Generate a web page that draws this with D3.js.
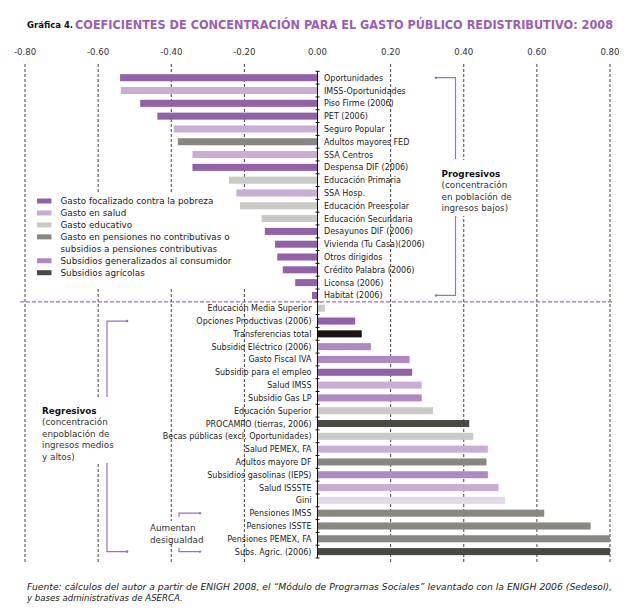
<!DOCTYPE html>
<html>
<head>
<meta charset="utf-8">
<script src="https://cdn.jsdelivr.net/npm/d3@7"></script>
<style>
  body { margin: 0; background: #fff; }
  svg { display: block; font-family: "DejaVu Sans", Verdana, sans-serif; }
</style>
</head>
<body>
<div class="chart"></div>
<script>
// rows, top to bottom
var labels = [
  "Oportunidades", "IMSS-Oportunidades", "Piso Firme (2006)", "PET (2006)",
  "Seguro Popular", "Adultos mayores FED", "SSA Centros", "Despensa DIF (2006)",
  "Educación Primaria", "SSA Hosp.", "Educación Preescolar", "Educación Secundaria",
  "Desayunos DIF (2006)", "Vivienda (Tu Casa)(2006)", "Otros dirigidos",
  "Crédito Palabra (2006)", "Liconsa (2006)", "Habitat (2006)",
  "Educación Media Superior", "Opciones Productivas (2006)", "Transferencias total",
  "Subsidio Eléctrico (2006)", "Gasto Fiscal IVA", "Subsidio para el empleo",
  "Salud IMSS", "Subsidio Gas LP", "Educación Superior", "PROCAMPO (tierras, 2006)",
  "Becas públicas (excl. Oportunidades)", "Salud PEMEX, FA", "Adultos mayore DF",
  "Subsidios gasolinas (IEPS)", "Salud ISSSTE", "Gini", "Pensiones IMSS",
  "Pensiones ISSTE", "Pensiones PEMEX, FA", "Subs. Agric. (2006)"
];
var values = [
  -0.540, -0.538, -0.485, -0.438, -0.393, -0.382, -0.342, -0.342,
  -0.242, -0.222, -0.212, -0.153, -0.144, -0.116, -0.110, -0.095, -0.061, -0.015,
  0.020, 0.103, 0.121, 0.146, 0.252, 0.259, 0.285, 0.285, 0.316, 0.415,
  0.426, 0.466, 0.462, 0.466, 0.495, 0.513, 0.620, 0.747, 0.800, 0.800
];
// f = focalizado, s = salud, e = educativo, p = pensiones, g = subsidios generalizados,
// a = agricolas, t = transferencias total, gini
var groups = [
  "f", "s", "f", "f", "s", "p", "s", "f", "e", "s", "e", "e", "f", "f", "f", "f", "f", "f",
  "e", "f", "t", "g", "g", "f", "s", "g", "e", "a", "e", "s", "p", "g", "s", "gini",
  "p", "p", "p", "a"
];
var ticks = [-0.8, -0.6, -0.4, -0.2, 0, 0.2, 0.4, 0.6, 0.8];
var legendKeys = ["f", "s", "e", "p", "g", "a"];
var legendText = [
  ["Gasto focalizado contra la pobreza"],
  ["Gasto en salud"],
  ["Gasto educativo"],
  ["Gasto en pensiones no contributivas o", "subsidios a pensiones contributivas"],
  ["Subsidios generalizados al consumidor"],
  ["Subsidios agrícolas"]
];
var colors = {
  f: "#9262a8", s: "#c9add5", e: "#c9c9c5", p: "#898782",
  g: "#b189c2", a: "#4b4945", t: "#1a1511", gini: "#e5d8eb"
};
var nTop = 18; // progresivos

var rows = labels.map(function(l, i) {
  return {label: l, value: values[i], group: groups[i], i: i};
});

var width = 644, height = 611;
var svg = d3.select("div.chart").append("svg")
    .attr("width", width).attr("height", height);

var x = d3.scaleLinear().domain([-0.8, 0.8]).range([25, 610]);
var y = d3.scaleBand().domain(labels).range([71.3, 558])
    .paddingInner(0.45).paddingOuter(0.225);
var step = y.step();
var cy = function(l) { return y(l) + y.bandwidth() / 2; };

// title
svg.append("text")
    .attr("x", 27).attr("y", 28)
    .attr("font-size", 8.5).attr("font-weight", "bold").attr("fill", "#111")
    .text("Gráfica 4.");
svg.append("text")
    .attr("x", 75).attr("y", 29)
    .attr("font-family", "'DejaVu Sans Condensed', 'DejaVu Sans', sans-serif")
    .attr("font-size", 13).attr("font-weight", "bold").attr("fill", "#9a5eb3")
    .attr("textLength", 538).attr("lengthAdjust", "spacingAndGlyphs")
    .text("COEFICIENTES DE CONCENTRACIÓN PARA EL GASTO PÚBLICO REDISTRIBUTIVO: 2008");

// top tick labels (plain hyphen, as in the original)
svg.selectAll(".tick-label")
    .data(ticks)
  .enter().append("text")
    .attr("class", "tick-label")
    .attr("x", function(d) { return x(d); })
    .attr("y", 55)
    .attr("text-anchor", "middle")
    .attr("font-size", 8.6).attr("fill", "#333")
    .text(function(d) { return (d < 0 ? "-" : "") + Math.abs(d).toFixed(2); });

// dashed gridlines
svg.selectAll(".grid")
    .data(ticks.filter(function(d) { return d != 0; }))
  .enter().append("line")
    .attr("class", "grid")
    .attr("x1", function(d) { return x(d); })
    .attr("x2", function(d) { return x(d); })
    .attr("y1", 64).attr("y2", 562)
    .attr("stroke", "#444").attr("stroke-width", 1)
    .attr("stroke-dasharray", "3,2");

// separator between progresivos / regresivos
var sepY = (cy(labels[nTop - 1]) + cy(labels[nTop])) / 2;
svg.append("line")
    .attr("x1", 20).attr("x2", 613)
    .attr("y1", sepY).attr("y2", sepY)
    .attr("stroke", "#a56ec2").attr("stroke-width", 1.2)
    .attr("stroke-dasharray", "4,2");

// white boxes behind legend and notes
var blank = function(x0, y0, w, h) {
  svg.append("rect").attr("x", x0).attr("y", y0).attr("width", w).attr("height", h)
     .attr("fill", "#fff");
};
blank(30, 193, 220, 94);
blank(438, 160, 92, 56);
blank(38, 398, 88, 65);
blank(147, 521, 58, 23);

// bars
svg.selectAll(".bar")
    .data(rows)
  .enter().append("rect")
    .attr("class", "bar")
    .attr("x", function(d) { return x(Math.min(0, d.value)); })
    .attr("y", function(d) { return y(d.label); })
    .attr("width", function(d) { return Math.abs(x(d.value) - x(0)); })
    .attr("height", y.bandwidth())
    .attr("fill", function(d) { return colors[d.group]; });

// zero axis with ticks at row boundaries
svg.append("line")
    .attr("x1", x(0)).attr("x2", x(0))
    .attr("y1", 71.3).attr("y2", 558)
    .attr("stroke", "#111").attr("stroke-width", 1);
svg.selectAll(".ztick")
    .data(d3.range(labels.length + 1))
  .enter().append("line")
    .attr("class", "ztick")
    .attr("x1", x(0) - 2).attr("x2", x(0) + 2)
    .attr("y1", function(i) { return 71.3 + i * step; })
    .attr("y2", function(i) { return 71.3 + i * step; })
    .attr("stroke", "#111");

// category labels
svg.selectAll(".cat")
    .data(rows)
  .enter().append("text")
    .attr("class", "cat")
    .attr("x", function(d) { return d.i < nTop ? x(0) + 6.5 : x(0) - 6; })
    .attr("y", function(d) { return cy(d.label) + 3; })
    .attr("text-anchor", function(d) { return d.i < nTop ? "start" : "end"; })
    .attr("font-size", 8).attr("fill", "#1b1b1b")
    .text(function(d) { return d.label; });

// legend
var ly = 204, lstep = 11.95, line = 0;
legendKeys.forEach(function(k, i) {
  svg.append("rect")
      .attr("x", 37).attr("y", ly + line * lstep - 5.5)
      .attr("width", 14.5).attr("height", 5)
      .attr("fill", colors[k]);
  legendText[i].forEach(function(t) {
    svg.append("text")
        .attr("x", 60.5).attr("y", ly + line * lstep)
        .attr("font-size", 8.8).attr("fill", "#222")
        .text(t);
    line++;
  });
});

// brackets
var bcol = "#9b72b6";
var bracket = function(xv, xe, y0, y1, gap0, gap1) {
  var p = d3.path();
  p.moveTo(xe, y0); p.lineTo(xv, y0); p.lineTo(xv, gap0);
  p.moveTo(xv, gap1); p.lineTo(xv, y1); p.lineTo(xe, y1);
  svg.append("path").attr("d", p.toString())
      .attr("fill", "none").attr("stroke", bcol).attr("stroke-width", 1.2);
  [y0, y1].forEach(function(yy) {
    svg.append("circle").attr("cx", xe).attr("cy", yy).attr("r", 1.3).attr("fill", bcol);
  });
};
bracket(455.5, 436, cy(labels[0]), cy(labels[nTop - 1]), 159, 216);
bracket(107, 127, cy("Opciones Productivas (2006)"), cy("Subs. Agric. (2006)"), 397, 463);

// aumentan desigualdad marks
var small = function(yy, up) {
  svg.append("path")
      .attr("d", "M179," + (yy + (up ? 3.5 : -3.5)) + "L179," + yy + "L200," + yy)
      .attr("fill", "none").attr("stroke", bcol).attr("stroke-width", 1.2);
  svg.append("circle").attr("cx", 200).attr("cy", yy).attr("r", 1.2).attr("fill", bcol);
};
small(cy("Pensiones IMSS"), true);
small(cy("Subs. Agric. (2006)"), false);

var note = function(x0, y0, lines, bold) {
  var t = svg.append("text").attr("x", x0).attr("y", y0).attr("font-size", 8.8).attr("fill", "#222");
  lines.forEach(function(l, i) {
    t.append("tspan").attr("x", x0).attr("dy", i == 0 ? 0 : 11.6)
        .attr("font-weight", i == 0 && bold ? "bold" : "normal")
        .attr("fill", i == 0 && bold ? "#111" : "#333")
        .text(l);
  });
};
note(441.5, 176.5, ["Progresivos", "(concentración", "en población de", "ingresos bajos)"], true);
note(42, 413.5, ["Regresivos", "(concentración", "enpoblación de", "ingresos medios", "y altos)"], true);
note(150, 531, ["Aumentan", "desigualdad"], false);

// source
svg.append("text")
    .attr("x", 27).attr("y", 590)
    .attr("font-size", 8.6).attr("font-style", "italic").attr("fill", "#222")
    .attr("textLength", 585).attr("lengthAdjust", "spacingAndGlyphs")
    .text("Fuente: cálculos del autor a partir de ENIGH 2008, el “Módulo de Programas Sociales” levantado con la ENIGH 2006 (Sedesol),");
svg.append("text")
    .attr("x", 27).attr("y", 601)
    .attr("font-size", 8.6).attr("font-style", "italic").attr("fill", "#222")
    .text("y bases administrativas de ASERCA.");
</script>
</body>
</html>
